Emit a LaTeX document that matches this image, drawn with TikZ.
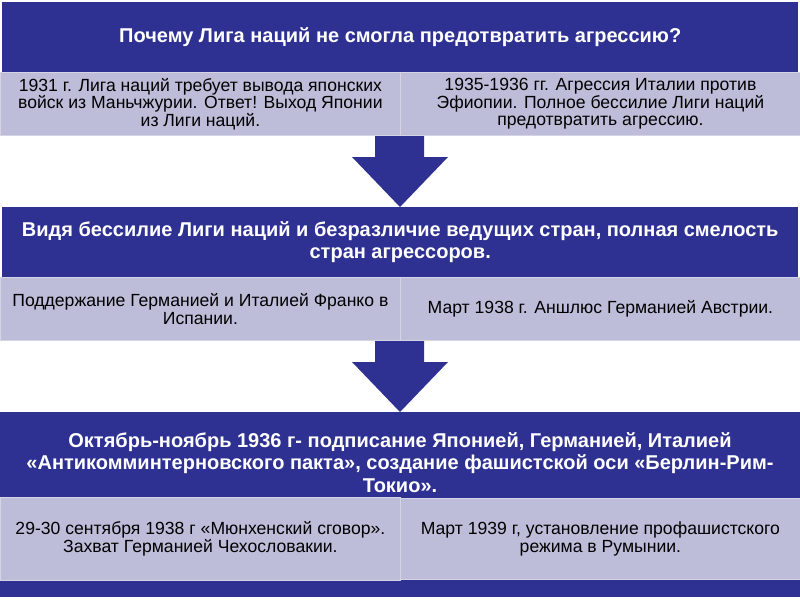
\documentclass[tikz,border=0pt]{standalone}
\usepackage{fontspec}
\setmainfont{Liberation Sans}
\definecolor{dkblue}{RGB}{46,49,146}
\definecolor{ltblue}{RGB}{189,189,218}
\definecolor{ltedge}{RGB}{212,212,230}
\begin{document}
\begin{tikzpicture}[x=1pt,y=-1pt,
  hdr/.style={fill=dkblue, draw=none, text=white, font=\bfseries\fontsize{20}{21.5}\selectfont, align=center, inner sep=0pt, anchor=north west},
  hdrtext/.style={text=white, font=\bfseries\fontsize{20}{22.5}\selectfont, align=center, inner sep=0pt},
  sub/.style={fill=ltblue, draw=ltedge, line width=0.8pt, text=black, font=\fontsize{17.6}{17.5}\selectfont, align=center, inner sep=0pt, anchor=north west},
  blockarrow/.style={fill=dkblue, draw=none}]
\useasboundingbox[fill=white] (0,0) rectangle (800,600);

% block 1
\node[hdr, minimum width=796pt, minimum height=70pt] (h1) at (2,2) {Почему Лига наций не смогла предотвратить агрессию?};
\node[sub, minimum width=400pt, minimum height=63pt] (s1l) at (0,72) {1931 г. Лига наций требует вывода японских\\войск из Маньчжурии. Ответ! Выход Японии\\из Лиги наций.};
\node[sub, minimum width=400pt, minimum height=63pt] (s1r) at (400,72) {1935-1936 гг. Агрессия Италии против\\Эфиопии. Полное бессилие Лиги наций\\предотвратить агрессию.};

% arrow 1
\fill[blockarrow] (375,136) -- (424,136) -- (424,157) -- (448,157) -- (400,207) -- (352,157) -- (375,157) -- cycle;

% block 2
\node[hdr, minimum width=796pt, minimum height=70pt] (h2) at (2,207) {Видя бессилие Лиги наций и безразличие ведущих стран, полная смелость\\стран агрессоров.};
\node[sub, minimum width=400pt, minimum height=63pt] (s2l) at (0,277) {Поддержание Германией и Италией Франко в\\Испании.};
\node[sub, minimum width=400pt, minimum height=63pt] (s2r) at (400,277) {Март 1938 г. Аншлюс Германией Австрии.};

% arrow 2
\fill[blockarrow] (375,341) -- (424,341) -- (424,362) -- (448,362) -- (400,412) -- (352,362) -- (375,362) -- cycle;

% block 3
\fill[dkblue] (0,412) rectangle (800,597);
\node[hdrtext] (h3) at (400,462.5) {Октябрь-ноябрь 1936 г- подписание Японией, Германией, Италией\\«Антикомминтерновского пакта», создание фашистской оси «Берлин-Рим-\\Токио».};
\node[sub, minimum width=400pt, minimum height=83pt] (s3l) at (0,497) {29-30 сентября 1938 г «Мюнхенский сговор».\\Захват Германией Чехословакии.};
\node[sub, minimum width=400pt, minimum height=81pt] (s3r) at (400,498) {Март 1939 г, установление профашистского\\режима в Румынии.};
\end{tikzpicture}
\end{document}
